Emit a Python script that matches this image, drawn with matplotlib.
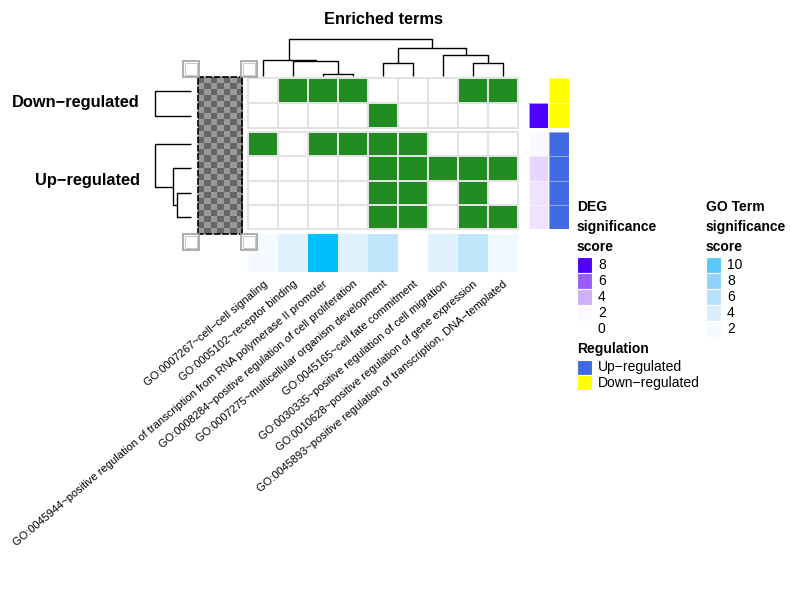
import numpy as np
import matplotlib
matplotlib.use("Agg")
import matplotlib.pyplot as plt
from matplotlib.colors import ListedColormap, LinearSegmentedColormap, Normalize
from matplotlib.patches import Rectangle

plt.rcParams['font.family'] = ['Liberation Sans', 'DejaVu Sans']

# ---- data ----
go_terms = [
    "GO:0007267~cell−cell signaling",
    "GO:0005102~receptor binding",
    "GO:0045944~positive regulation of transcription from RNA polymerase II promoter",
    "GO:0008284~positive regulation of cell proliferation",
    "GO:0007275~multicellular organism development",
    "GO:0045165~cell fate commitment",
    "GO:0030335~positive regulation of cell migration",
    "GO:0010628~positive regulation of gene expression",
    "GO:0045893~positive regulation of transcription, DNA−templated",
]
groups = ["Down−regulated", "Up−regulated"]
group_rows = [2, 4]

# membership (1 = gene in term)
down_hits = [[0, 1, 1, 1, 0, 0, 0, 1, 1],
             [0, 0, 0, 0, 1, 0, 0, 0, 0]]
up_hits = [[1, 0, 1, 1, 1, 1, 0, 0, 0],
           [0, 0, 0, 0, 1, 1, 1, 1, 1],
           [0, 0, 0, 0, 1, 1, 0, 1, 0],
           [0, 0, 0, 0, 1, 1, 0, 1, 1]]

go_score = [2.0, 3.4, 14.8, 3.4, 5.5, 1.3, 3.4, 5.5, 2.3]
deg_down = [0, 8]
deg_up = [2.1, 3.0, 2.6, 2.6]

deg_legend = [8, 6, 4, 2, 0]
go_legend = [10, 8, 6, 4, 2]
reg_labels = ["Up−regulated", "Down−regulated"]
reg_colors = ["#4169E1", "#FFFF00"]

# colour scales (value, colour)
deg_stops = [(2, '#fdfaff'), (4, '#cfb0ff'), (6, '#9a5cff'), (8, '#5000ff')]
go_stops = [(1.47, '#ffffff'), (2, '#f4faff'), (4, '#d8eefc'), (6, '#b6e2fb'),
            (8, '#8ed4fa'), (10, '#5ac8fa'), (14.8, '#00bfff')]

# dendrograms: (height, left, right), leaves are ints
col_tree = (1.0, (0.43, 0, (0.41, 1, (0.05, 2, 3))),
            (0.76, (0.35, 4, 5), (0.57, 6, (0.35, 7, 8))))
down_tree = (1.0, 0, 1)
up_tree = (1.0, 0, (0.5, 1, (0.39, 2, 3)))

# ---- layout helpers ----
W, H = 790, 594
fig = plt.figure(figsize=(W / 100, H / 100), dpi=100)


def px_axes(x0, y0, x1, y1):
    ax = fig.add_axes([x0 / W, 1 - y1 / H, (x1 - x0) / W, (y1 - y0) / H])
    ax.set_axis_off()
    return ax


def draw_tree(ax, node, orient):
    # returns (position, height)
    if isinstance(node, int):
        return node + 0.5, 0.0
    h, left, right = node
    p1, h1 = draw_tree(ax, left, orient)
    p2, h2 = draw_tree(ax, right, orient)
    if orient == 'top':
        ax.plot([p1, p1, p2, p2], [h1, h, h, h2], color='black', lw=1.0,
                solid_capstyle='butt', clip_on=False)
    else:
        ax.plot([h1, h, h, h2], [p1, p1, p2, p2], color='black', lw=1.0,
                solid_capstyle='butt', clip_on=False)
    return (p1 + p2) / 2, h


def stops_cmap(name, stops):
    lo, hi = stops[0][0], stops[-1][0]
    nodes = [((v - lo) / (hi - lo), c) for v, c in stops]
    return LinearSegmentedColormap.from_list(name, nodes), Normalize(lo, hi, clip=True)


green = ListedColormap(['white', '#228B22'])
deg_cmap, deg_norm = stops_cmap('deg', deg_stops)
deg_cmap.set_under('white')
deg_norm = Normalize(2, 8, clip=False)
go_cmap, go_norm = stops_cmap('go', go_stops)

hx0, hx1 = 248, 518
slices = [(78, 128), (132, 229)]
hits = [down_hits, up_hits]
degs = [deg_down, deg_up]
trees = [down_tree, up_tree]

for k, (y0, y1) in enumerate(slices):
    m = np.array(hits[k])
    ax = px_axes(hx0, y0, hx1, y1)
    mesh = ax.pcolormesh(m, cmap=green, vmin=0, vmax=1,
                         edgecolors='#e2e2e2', linewidth=1.2)
    mesh.set_clip_on(False)
    ax.set_xlim(0, m.shape[1])
    ax.set_ylim(m.shape[0], 0)

    # DEG significance column
    axd = px_axes(529, y0, 548, y1)
    dv = np.array(degs[k], dtype=float)[:, None]
    axd.pcolormesh(dv, cmap=deg_cmap, norm=deg_norm, edgecolors='#ffffff90', linewidth=0.5)
    axd.set_ylim(len(dv), 0)

    # Regulation column
    axr = px_axes(549, y0, 569, y1)
    reg_col = ListedColormap([reg_colors[1 - k]])
    axr.pcolormesh(np.zeros((group_rows[k], 1)), cmap=reg_col,
                   edgecolors='#ffffff70', linewidth=0.5)
    axr.set_ylim(group_rows[k], 0)

    # row dendrogram
    axt = px_axes(155, y0, 191, y1)
    draw_tree(axt, trees[k], 'left')
    axt.set_xlim(1.0, 0.0)
    axt.set_ylim(group_rows[k], 0)

    # row slice label
    fig.text(140 / W, 1 - ((y0 + y1) / 2) / H, groups[k], ha='right', va='center',
             fontsize=11.8, fontweight='bold')

# column dendrogram
axc = px_axes(hx0, 39, hx1, 76)
draw_tree(axc, col_tree, 'top')
axc.set_xlim(0, 9)
axc.set_ylim(0, 1.0)

# GO term significance row
axg = px_axes(hx0, 234, hx1, 272)
axg.pcolormesh(np.array(go_score)[None, :], cmap=go_cmap, norm=go_norm)
axg.set_xlim(0, 9)
axg.set_axis_on()
for s in axg.spines.values():
    s.set_visible(False)
axg.set_yticks([])
axg.set_xticks(np.arange(9) + 0.5)
axg.set_xticklabels(go_terms, rotation=40, ha='right', rotation_mode='anchor',
                    fontsize=8)
axg.tick_params(axis='x', length=0, pad=5)

# checkerboard placeholder column with handles
axk = px_axes(198, 77, 242, 234)
chk = np.indices((26, 7)).sum(axis=0) % 2
axk.imshow(chk, cmap=ListedColormap(['#666666', '#999999']), aspect='auto',
           interpolation='nearest')
axk.set_axis_on()
axk.set_xticks([])
axk.set_yticks([])
for s in axk.spines.values():
    s.set_linestyle((0, (3, 2)))
    s.set_linewidth(1.2)
    s.set_color('black')

for (hx, hy) in [(183, 61), (241, 61), (183, 234), (241, 234)]:
    axh = px_axes(hx, hy, hx + 16, hy + 16)
    axh.add_patch(Rectangle((0, 0), 1, 1, facecolor='white', edgecolor='#a0a0a0',
                            lw=1.2, transform=axh.transAxes, clip_on=False))
    axh.add_patch(Rectangle((0.12, 0.12), 0.76, 0.76, facecolor='white',
                            edgecolor='#c8c8c8', lw=0.8, transform=axh.transAxes))

# title
fig.text(383 / W, 1 - 20 / H, "Enriched terms", ha='center', va='center',
         fontsize=11.8, fontweight='bold')


# ---- legends ----
def legend_block(x, title_lines, values, colors, y_title=207, y_sw=257):
    for i, t in enumerate(title_lines):
        fig.text(x / W, 1 - (y_title + 20 * i) / H, t, ha='left', va='center',
                 fontsize=10, fontweight='bold')
    axl = px_axes(x, y_sw, x + 15, y_sw + 16 * len(values))
    for i, (v, c) in enumerate(zip(values, colors)):
        axl.add_patch(Rectangle((0, i), 1, 1, facecolor=c, edgecolor='white', lw=0.8))
        axl.text(1.4, i + 0.5, str(v), ha='left', va='center', fontsize=10)
    axl.set_xlim(0, 1)
    axl.set_ylim(len(values), 0)
    return axl


legend_block(577, ["DEG", "significance", "score"], deg_legend,
             [deg_cmap(deg_norm(v)) for v in deg_legend])
legend_block(706, ["GO Term", "significance", "score"], go_legend,
             [go_cmap(go_norm(v)) for v in go_legend])

fig.text(577 / W, 1 - 349 / H, "Regulation", ha='left', va='center',
         fontsize=10, fontweight='bold')
axreg = px_axes(577, 360, 592, 390)
for i, (lab, c) in enumerate(zip(reg_labels, reg_colors)):
    axreg.add_patch(Rectangle((0, i), 1, 1, facecolor=c, edgecolor='white', lw=0.8))
    axreg.text(1.4, i + 0.5, lab, ha='left', va='center', fontsize=10)
axreg.set_xlim(0, 1)
axreg.set_ylim(2, 0)

fig.savefig("out.png", dpi=100)
